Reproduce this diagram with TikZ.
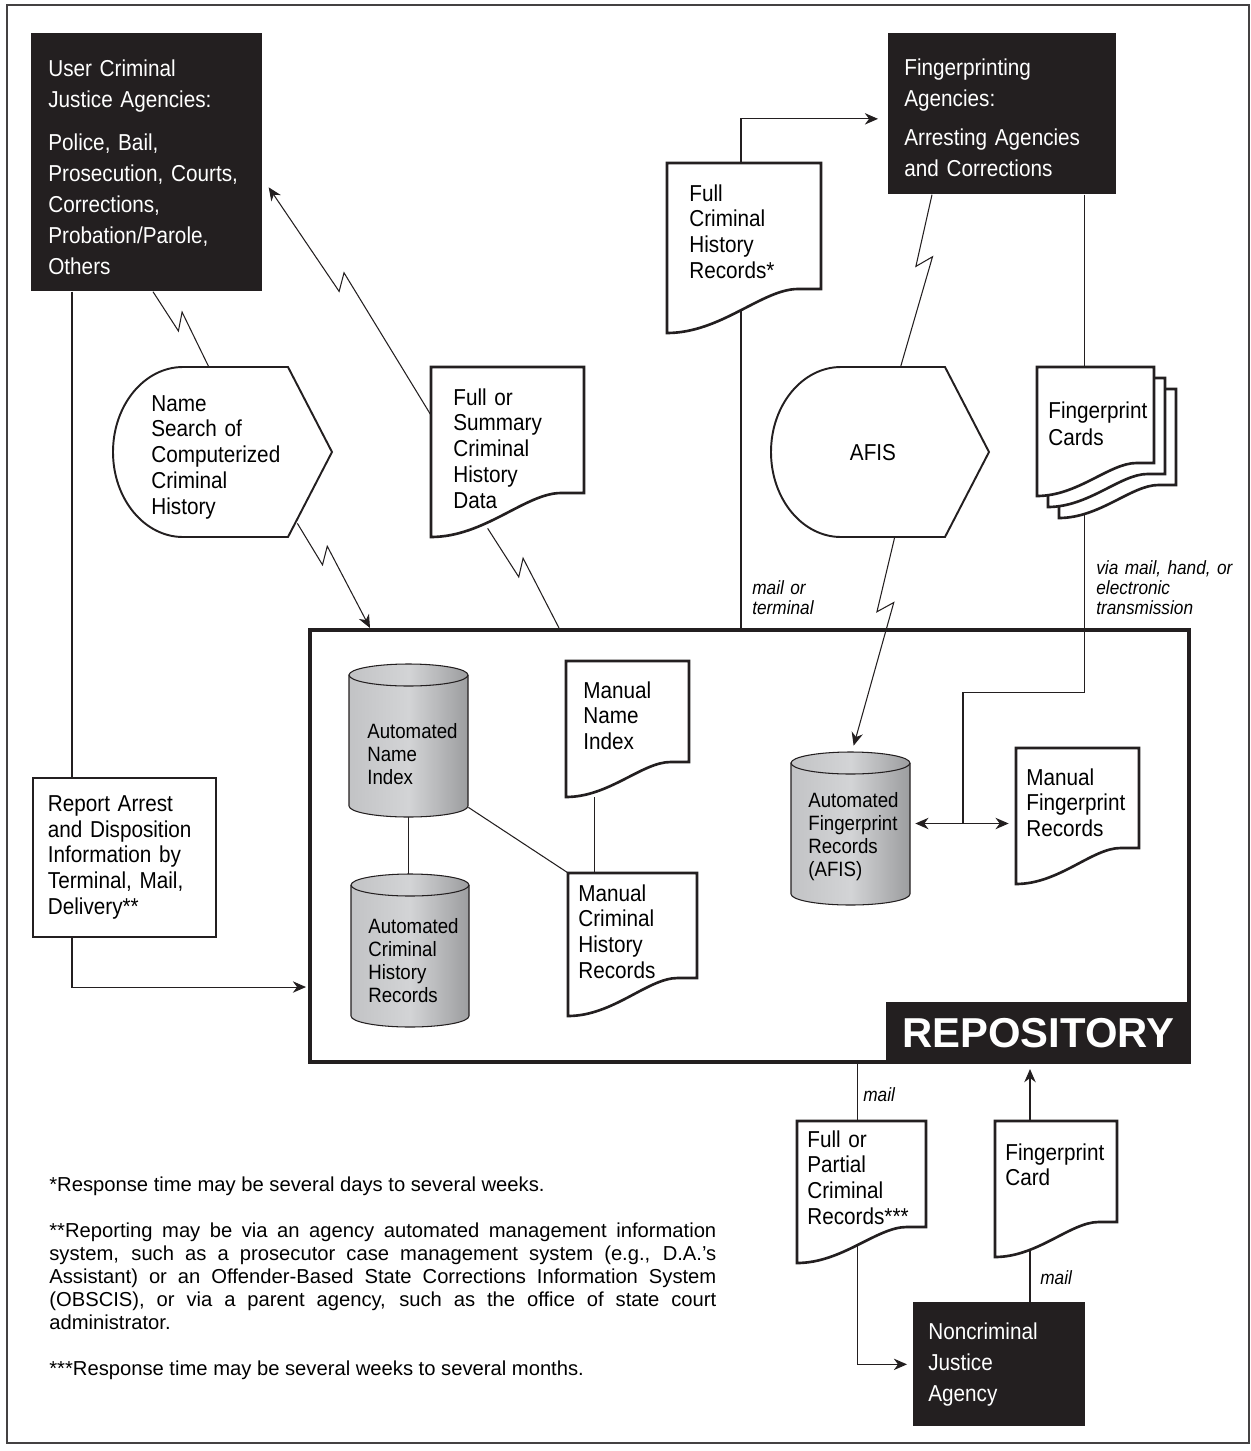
\documentclass[tikz,border=0pt]{standalone}
\usepackage{fontspec}
\setmainfont{Liberation Sans}[FakeStretch=0.9]
\newfontfamily\notesfamily{Liberation Sans}
\usetikzlibrary{arrows.meta,calc,fit,backgrounds}

\definecolor{ink}{HTML}{231F20}
\definecolor{cylL}{HTML}{C2C3C5}
\definecolor{cylM}{HTML}{D3D4D6}
\definecolor{cylR}{HTML}{9C9D9F}

\newdimen\pxu \pxu=0.02cm

\newcommand\docfont{\fontsize{13.1pt}{14.75pt}\selectfont}
\newcommand\agfont{\fontsize{13.1pt}{17.6pt}\selectfont}
\newcommand\cylfont{\fontsize{11.8pt}{13.2pt}\selectfont}
\newcommand\labfont{\fontsize{10.9pt}{11.4pt}\selectfont\itshape}
\newcommand\notefont{\notesfamily\fontsize{11.5pt}{13pt}\selectfont}
\newcommand\repfont{\notesfamily\bfseries\fontsize{23.8pt}{26pt}\selectfont}

\tikzset{
  conn/.style={draw=ink, line width=0.6pt},
  arr/.style={conn, ->},
  arrs/.style={conn, <->},
  zz/.style={to path={-- ($(\tikztostart)!#1!(\tikztotarget)!3\pxu!-90:(\tikztotarget)$) coordinate (zzp)
      -- ($(zzp)!12\pxu!180:(\tikztotarget)!15\pxu!90:(\tikztotarget)$) -- (\tikztotarget) \tikztonodes}},
  zz/.default=0.45,
  agency/.style={fill=ink, text=white, font=\agfont, align=left, anchor=north west, inner ysep=0pt},
  docline/.style={draw=ink, fill=white, line width=1.5pt},
  displine/.style={draw=ink, fill=white, line width=1.1pt},
  cyl/.style={draw=ink, line width=0.6pt, left color=cylL, right color=cylR, middle color=cylM},
  txt/.style={font=\docfont, align=left, anchor=base west, inner sep=0pt, text width=#1\pxu},
  txt/.default=150,
  cyltxt/.style={font=\cylfont, align=left, anchor=base west, inner sep=0pt, text width=110\pxu},
  lab/.style={font=\labfont, align=left, anchor=base west, inner sep=0pt, text width=160\pxu},
}

% document symbol: name, x0, y0, x1, y right, y left
\newcommand\docshape[6]{%
  \pgfmathsetmacro\dsW{#4-#2}
  \filldraw[docline] (#2,#3) -- (#4,#3) -- (#4,#5) -- ({#2+0.85*\dsW},#5)
    .. controls ({#2+0.62*\dsW},#5) and ({#2+0.35*\dsW},#6) .. (#2,#6) -- cycle;
  \path (#2,#3) coordinate (tmpA) (#4,#6) coordinate (tmpB);
  \node[fit=(tmpA)(tmpB), inner sep=0pt] (#1) {};}

% cylinder: name, x0, y0, x1, y1
\newcommand\cylshape[5]{%
  \pgfmathsetmacro\cyR{(#4-#2)/2}
  \pgfmathsetmacro\cyT{#3+11}
  \pgfmathsetmacro\cyB{#5-11}
  \shadedraw[cyl] (#2,\cyT) -- (#2,\cyB) arc[start angle=180, end angle=0, x radius=\cyR, y radius=11]
    -- (#4,\cyT) arc[start angle=0, end angle=-180, x radius=\cyR, y radius=11] -- cycle;
  \draw[ink, line width=0.6pt] (#2,\cyT) arc[start angle=180, end angle=0, x radius=\cyR, y radius=11];
  \path (#2,#3) coordinate (tmpA) (#4,#5) coordinate (tmpB);
  \node[fit=(tmpA)(tmpB), inner sep=0pt] (#1) {};}

% display symbol: name, x0, y0, x1, y1
\newcommand\dispshape[5]{%
  \pgfmathsetmacro\dpR{(#5-#3)/2}
  \filldraw[displine] ({#2+70},#3) -- ({#4-44},#3) -- (#4,{#3+\dpR}) -- ({#4-44},#5) -- ({#2+70},#5)
    arc[start angle=90, end angle=270, x radius=70, y radius=\dpR] -- cycle;
  \path (#2,#3) coordinate (tmpA) (#4,#5) coordinate (tmpB);
  \node[fit=(tmpA)(tmpB), inner sep=0pt] (#1) {};}

\begin{document}
\begin{tikzpicture}[x=\pxu, y=-\pxu, >={Stealth[length=7.5pt, width=6.5pt, inset=2.4pt]}]
\useasboundingbox (0,0) rectangle (1251,1451);
\draw[ink!85, line width=1.1pt] (7,5) rectangle (1249,1443);

% agencies
\node[agency, minimum width=231\pxu, minimum height=258\pxu, text width=197\pxu, inner xsep=17\pxu] (ucja) at (31,33)
  {\rule{0pt}{15pt}User Criminal\\ Justice Agencies:\\[7pt] Police, Bail,\\ Prosecution, Courts,\\ Corrections,\\ Probation/Parole,\\ Others};
\node[agency, minimum width=228\pxu, minimum height=161\pxu, text width=196\pxu, inner xsep=16\pxu] (fpa) at (888,33)
  {\rule{0pt}{14pt}Fingerprinting\\ Agencies:\\[5pt] Arresting Agencies\\ and Corrections};
\node[agency, minimum width=172\pxu, minimum height=124\pxu, text width=142\pxu, inner xsep=15\pxu] (nja) at (913,1302)
  {Noncriminal\\ Justice\\ Agency};
\node[draw=ink, line width=1pt, font=\docfont, align=left, anchor=north west, minimum width=183\pxu,
  minimum height=159\pxu, text width=153\pxu, inner xsep=15\pxu] (report) at (32,777)
  {Report Arrest\\ and Disposition\\ Information by\\ Terminal, Mail,\\ Delivery**};

% repository
\node[draw=ink, line width=2.3pt, anchor=north west, minimum width=879\pxu, minimum height=432\pxu, inner sep=0pt] (repo) at (308,628) {};
\node[fill=ink, text=white, font=\repfont, minimum width=305\pxu, minimum height=62\pxu, anchor=south east, inner sep=0pt] (repolab) at (repo.south east) {REPOSITORY};

% documents
\docshape{fchr}{667}{163}{821}{289}{333}
\docshape{fsch}{431}{367}{584}{493}{537}
\docshape{mni}{566}{661}{689}{762}{797}
\docshape{mchr}{568}{873}{697}{978}{1016}
\docshape{mfr}{1016}{748}{1139}{848}{884}
\docshape{fpcr}{797}{1121}{926}{1227}{1263}
\docshape{fpc}{995}{1121}{1117}{1222}{1257}
\docshape{cards3}{1059}{389}{1176}{485}{518}
\docshape{cards2}{1048}{378}{1165}{474}{507}
\docshape{cards}{1037}{367}{1154}{463}{496}

% databases
\cylshape{anic}{349}{664}{468}{817}
\cylshape{achrc}{351}{874}{469}{1027}
\cylshape{afrc}{791}{752}{910}{905}

% displays
\dispshape{nss}{113}{367}{332}{537}
\dispshape{afis}{771}{367}{989}{537}

% texts
\node[txt] (fchr-t) at (689,201) {Full\\ Criminal\\ History\\ Records*};
\node[txt] (fsch-t) at (453,405) {Full or\\ Summary\\ Criminal\\ History\\ Data};
\node[txt] (mni-t) at (583,698) {Manual\\ Name\\ Index};
\node[txt] (mchr-t) at (578,901) {Manual\\ Criminal\\ History\\ Records};
\node[txt] (mfr-t) at (1026,785) {Manual\\ Fingerprint\\ Records};
\node[txt] (fpcr-t) at (807,1147) {Full or\\ Partial\\ Criminal\\ Records***};
\node[txt] (fpc-t) at (1005,1160) {Fingerprint\\ Card};
\node[txt, font=\fontsize{13.1pt}{15.9pt}\selectfont] (cards-t) at (1048,418) {Fingerprint\\ Cards};
\node[txt=180] (nss-t) at (151,411) {Name\\ Search of\\ Computerized\\ Criminal\\ History};
\node[font=\docfont, inner sep=0pt] (afis-t) at (873,453) {AFIS};
\node[cyltxt] (anic-t) at (367,738) {Automated\\ Name\\ Index};
\node[cyltxt] (achrc-t) at (368,933) {Automated\\ Criminal\\ History\\ Records};
\node[cyltxt] (afrc-t) at (808,807) {Automated\\ Fingerprint\\ Records\\ (AFIS)};

% connectors
\begin{scope}[on background layer]
\draw[conn] ([xshift=41\pxu]ucja.south west) -- ([xshift=40\pxu]report.north west);
\draw[arr, shorten >=2\pxu] ([xshift=40\pxu]report.south west) |- ([yshift=-141\pxu]repo.west);
\path ([xshift=122\pxu]ucja.south west) coordinate (z1s) ([xshift=96\pxu]nss.north west) coordinate (z1e);
\draw[conn] (z1s) to[zz=0.5] (z1e);
\path ([shift={(-35\pxu,14\pxu)}]nss.south east) coordinate (z2s) ([xshift=62\pxu]repo.north west) coordinate (z2e);
\draw[arr] (z2s) to[zz=0.38] (z2e);
\path ([shift={(6\pxu,-25\pxu)}]ucja.east) coordinate (z3s) ([yshift=-48\pxu]fsch.north west) coordinate (z3e);
\draw[conn, <-] (z3s) to[zz] (z3e);
\path ([shift={(57\pxu,9\pxu)}]fsch.south west) coordinate (z4s) ([xshift=251\pxu]repo.north west) coordinate (z4e);
\draw[conn] (z4s) to[zz=0.47] (z4e);
\path ([xshift=44\pxu]fpa.south west) coordinate (z5s) ([xshift=130\pxu]afis.north west) coordinate (z5e);
\draw[conn] (z5s) to[zz=0.42] (z5e);
\path ([xshift=124\pxu]afis.south west) coordinate (z6s) ([shift={(63\pxu,6\pxu)}]afrc.north west) coordinate (z6e);
\draw[arr] (z6s) to[zz=0.36] (z6e);
\draw[arr, shorten >=10\pxu] ([xshift=433\pxu]repo.north west) |- ([yshift=-5\pxu]fpa.west);
\draw[arrs, shorten <=5\pxu, shorten >=7\pxu] ([yshift=5\pxu]afrc.east) coordinate (fl1) -- (fl1 -| mfr.west) coordinate (fl2);
\path ($(fl1)!0.5!(fl2)$) coordinate (flm);
\draw[conn] ([xshift=-32\pxu]fpa.south east) -- ++(0,498) -| (flm);
\draw[arr, shorten >=6\pxu] ([xshift=-334\pxu]repo.south east) |- (nja.west);
\draw[arr, shorten >=5\pxu] ([xshift=117\pxu]nja.north west) coordinate (nj1) -- (nj1 |- repo.south);
\draw[conn] (anic.south) -- (anic.south |- achrc.north);
\draw[conn] ([yshift=10\pxu]anic.south east) -- (mchr.north west);
\draw[conn] ([xshift=29\pxu]mni.south west) coordinate (mn1) -- (mn1 |- mchr.north);
\end{scope}

% labels
\node[lab] (mt) at (752,594) {mail or\\ terminal};
\node[lab] (vm) at (1096,574) {via mail, hand, or\\ electronic\\ transmission};
\node[lab] (m1) at (863,1101) {mail};
\node[lab] (m2) at (1040,1284) {mail};

% footnotes
\node[font=\notefont, align=justify, anchor=base west, inner sep=0pt, text width=667\pxu] (notes) at (49,1191)
  {*Response time may be several days to several weeks.\par\vspace{13.6pt}
   **Reporting may be via an agency automated management information\linebreak
   system, such as a prosecutor case management system (e.g., D.A.’s\linebreak
   Assistant) or an Offender-Based State Corrections Information System\linebreak
   (OBSCIS), or via a parent agency, such as the office of state court\linebreak
   administrator.\par\vspace{13.6pt}
   ***Response time may be several weeks to several months.};
\end{tikzpicture}
\end{document}
